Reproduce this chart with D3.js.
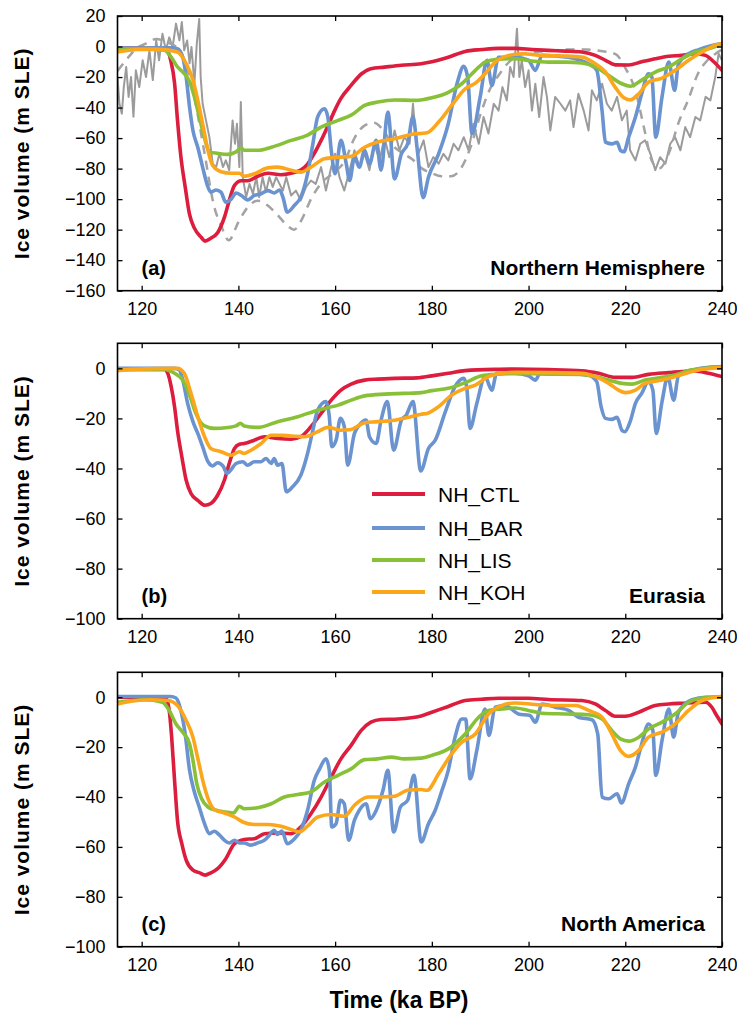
<!DOCTYPE html>
<html>
<head>
<meta charset="utf-8">
<script src="https://d3js.org/d3.v7.min.js"></script>
<style>
body { margin: 0; background: #fff; }
text { font-family: "Liberation Sans", Arial, Helvetica, sans-serif; fill: #000; }
</style>
</head>
<body>
<div id="vis"></div>
<script>
// ---- data: [age (ka BP), ice volume (m SLE)] ----

// (a) Northern Hemisphere
const ctlNH = [[115,-1],[120,-1],[125,-1.4],[126,-9],[126.8,-24],[127.4,-48],[128.1,-72],[129,-92],[129.9,-110],[130.9,-119],[132.3,-125],[133.1,-127.5],[134.3,-125.6],[135.7,-122],[137.1,-112],[138.1,-101],[139.2,-91],[140.6,-88],[141.9,-88],[144,-85],[146.1,-83],[148.8,-84],[150.9,-83],[152.9,-81],[154.3,-77],[155.7,-70],[157.1,-61.5],[158.5,-52],[159.9,-42],[161.2,-34],[163.3,-25.5],[165.4,-18],[167.4,-14.5],[170.2,-13.5],[173.7,-12.3],[177.8,-11.3],[180,-10],[183.4,-7],[186.9,-3.2],[190.3,-2],[193.8,-1.2],[197.2,-1.2],[200.7,-1.9],[204.1,-2.5],[207.6,-3],[211,-3.6],[213.8,-5.8],[215.9,-9],[217.9,-12],[220.7,-12.1],[223.4,-10],[226.2,-8],[229,-6.4],[231.7,-5.8],[234.5,-4.7],[236.6,-5.8],[238.3,-10],[240,-15.6]];
const barNH = [[115,-1],[120,-1],[126.1,-0.8],[127.4,-1.4],[128.5,-7],[129.2,-20],[129.9,-39.7],[130.6,-55],[131.6,-66],[132.6,-79],[133.7,-92],[134.3,-95.4],[135.4,-94],[136.4,-95.4],[137.4,-102],[138.5,-100],[139.5,-96],[140.6,-97.6],[141.9,-100.5],[143.3,-97.6],[144.7,-96.5],[146.1,-94.4],[147.4,-96],[148.5,-94],[149.2,-98.7],[150.1,-108.5],[151.6,-104],[152.9,-98.7],[154.3,-83.4],[155.4,-63.8],[156.4,-46],[157.8,-40.8],[158.5,-46.2],[159.2,-68],[160,-83.4],[161.2,-61.5],[162.3,-76.8],[163,-87.8],[164,-72.5],[165,-79],[166.1,-68],[167.1,-77],[168.5,-61.5],[169.5,-81],[170.9,-43],[172.3,-86.7],[173.7,-70.3],[175,-63.7],[176.1,-46],[177,-68],[178.2,-99],[179.3,-85.6],[181.4,-70.3],[183.4,-50.6],[185.2,-24.4],[186.6,-13],[187.4,-20],[188.3,-57],[190,-33],[191.4,-9],[192.4,-25.5],[193.8,-7],[197.2,-7],[200,-9],[201.4,-15.6],[202.8,-5.8],[205.5,-6.2],[209.7,-8],[212.4,-11.3],[214.1,-15.6],[215.2,-42],[215.9,-62.7],[217.2,-63.8],[218.3,-62.7],[219,-68],[219.7,-69],[220.7,-59.4],[222.1,-46.2],[223.4,-31],[224.8,-17.8],[225.5,-20],[226.3,-59.4],[227.6,-33],[229,-10.2],[230.2,-28.7],[231,-11.3],[233.1,-4.7],[235.2,-2],[237.2,0.1],[240,1.9]];
const lisNH = [[115,-2],[120.6,-1.4],[124.7,-2.5],[126.1,-7],[127.4,-13.4],[128.5,-16.7],[129.9,-23],[130.9,-33],[131.9,-46],[133,-60],[134,-69],[135.7,-70],[137.8,-70.7],[139.5,-69],[140.6,-66.5],[141.2,-68],[144,-68],[146.8,-66],[150.9,-61.5],[154.3,-58],[157.1,-52.8],[160.6,-48.4],[163.3,-45],[166.1,-38.6],[168.8,-36.4],[172.3,-35],[176.6,-35.3],[180,-33.6],[183.4,-30],[186.2,-24.4],[189,-15.6],[191,-10.2],[193.1,-8.6],[197.2,-8],[200.7,-9.5],[204.1,-10.2],[207.6,-10.2],[211,-10.8],[213.8,-13.4],[216.6,-19],[219.3,-24.4],[221,-26],[223.4,-22],[226.2,-16.7],[229,-13.4],[231.7,-8],[234.5,-3.6],[237.2,-1.4],[240,1.4]];
const kohNH = [[115,-3.6],[119.2,-2],[124,-1.9],[127.4,-3.6],[129.2,-11.3],[130.6,-22],[131.6,-35.3],[132.6,-50.6],[133.7,-68],[134.7,-78],[136.4,-82],[138.5,-83],[140.2,-83],[141.2,-85],[143.3,-83.4],[146.1,-79.5],[148.1,-79],[150.9,-81],[152.9,-82.3],[155,-79],[157.8,-73.6],[160.6,-72.5],[163.3,-72],[166.1,-66],[168.8,-62.6],[172.3,-60.5],[175.7,-57.6],[179,-56.5],[181.4,-49.5],[184.1,-38.6],[186.9,-27.7],[189,-24],[191,-17.8],[193.1,-10.2],[195.9,-5.8],[198.6,-4.7],[202.8,-5.8],[206.9,-6.2],[211,-6.9],[213.8,-11.3],[215.9,-16.7],[217.9,-26.6],[219.7,-33.6],[221,-35],[222.8,-31],[224.8,-23.3],[227.6,-20.7],[230.3,-15.6],[233.1,-9],[235.9,-3.6],[238.6,0.8],[240,1.9]];

// sea-level reconstructions shown in grey in (a)
const proxySolid = [[115,-20],[115.4,-37.5],[115.9,-44],[116.3,-26.6],[116.8,-13.4],[117.3,-33],[117.8,-20],[118.3,-46],[118.8,-15.6],[119.5,-26.6],[120.2,-9],[120.9,-20],[121.6,-2.5],[122.3,-22],[123,4],[123.6,-9],[124.3,8.4],[125,-2.5],[125.7,6],[126.4,-0.3],[127.1,15],[127.8,4],[128.3,16],[128.8,-2.5],[129.4,4],[129.9,-11],[130.3,-0.3],[130.9,-24.4],[131.4,2],[131.9,18],[132.2,-20],[132.6,-37.5],[133.3,-48.4],[134,-59.4],[134.7,-77],[135.4,-79],[136.1,-70],[136.8,-79],[137.4,-74.6],[138.1,-81],[138.8,-48.4],[139.3,-63.7],[139.7,-50.6],[140.2,-79],[140.5,-36.4],[140.9,-85.6],[141.6,-98.7],[142.3,-90],[143,-96.5],[143.7,-85.6],[144.3,-98.7],[145,-85.6],[145.7,-95.4],[146.4,-85.6],[147.1,-92],[147.8,-85.6],[148.5,-90],[149.2,-94.4],[149.9,-85.6],[150.9,-97.6],[151.9,-94.4],[152.9,-100.9],[154,-92],[155,-87.8],[156,-90],[157.1,-79],[158.1,-94.4],[159.2,-79],[160,-70.3],[160.9,-85.6],[161.9,-94.4],[163,-81],[164,-68],[165,-79],[166.1,-70.3],[167.1,-81],[168.1,-63.7],[169.2,-74.6],[170.2,-59.4],[171.2,-72.5],[172.3,-55],[173.3,-68],[174.3,-59.4],[175.4,-63.7],[176.1,-37.5],[176.8,-63.7],[177.2,-70.3],[178.3,-61.5],[179.3,-79],[180.3,-72.5],[181.4,-76.8],[182.4,-70.3],[183.4,-74.6],[184.5,-63.7],[185.5,-68],[186.6,-59.4],[187.6,-68],[188.6,-50.6],[189.7,-63.7],[190.7,-46.2],[191.7,-57],[192.8,-37.5],[193.8,-42],[194.6,-26.6],[195.5,-35.3],[196.2,-13.4],[196.9,-20],[197.6,11.7],[198.1,-20],[198.6,-9],[199.3,-26.6],[200,-15.6],[200.7,-42],[201.4,-24.4],[202.2,-46.2],[203.1,-20],[203.8,-33],[204.5,-55],[205.5,-33],[206.6,-37.5],[207.6,-42],[208.6,-35.3],[209.3,-52.8],[210.3,-31],[211.4,-42],[212.4,-55],[213.1,-28.7],[214.1,-35.3],[215.2,-24.4],[216.2,-37.5],[217.2,-42],[218.3,-33],[219.3,-48.4],[220.3,-42],[221,-68],[222.1,-74.6],[223.1,-63.7],[224.1,-61.5],[225.2,-70.3],[226.2,-81],[227.2,-72.5],[228.3,-76.8],[229.3,-63.7],[230.3,-59.4],[231.4,-68],[232.4,-52.8],[233.4,-59.4],[234.5,-46.2],[235.5,-48.4],[236.6,-33],[237.6,-35.3],[238.6,-20],[239.3,-4.7],[240,-9]];
const proxyDashed = [[115,-16],[117,-8],[119,-1],[121,2],[123,5],[125,3],[127,0],[129,-10],[131,-35],[133,-70],[135,-105],[136.5,-118],[138,-127],[140,-115],[142,-105],[144,-101],[146,-104],[148,-110],[150,-117],[151.5,-120],[153,-114],[155,-100],[157,-90],[160,-82],[162,-75],[164,-60],[166,-52],[168,-50],[170,-55],[172,-65],[174,-70],[176,-74],[178,-80],[180,-83],[182,-85],[184,-85],[186,-80],[188,-66],[190,-45],[192,-28],[194,-18],[196,-10],[198,-6],[200,-4],[204,-3],[208,-2],[212,-2],[215,-3],[218,-5],[220,-14],[222,-28],[224,-55],[225.5,-75],[227,-80],[229,-70],[231,-50],[233,-35],[235,-18],[237,-9],[239,-4],[240,-2]];

// (b) Eurasia
const ctlEU = [[115,-0.4],[124.7,-0.4],[125.4,-2],[126.1,-7.3],[126.8,-15.3],[127.4,-24.7],[128.3,-35.3],[129.2,-44.7],[130.2,-50],[131.6,-52.7],[133.1,-54.7],[134.3,-54],[135.7,-50.7],[137.1,-44.7],[138.1,-38],[139.2,-32],[140.2,-30.3],[141.2,-30],[143.3,-28.7],[145.4,-27.3],[148.1,-28],[150.9,-28.3],[152.9,-27.3],[155,-23.3],[157.1,-18],[159.2,-12.7],[161.2,-8.7],[163.3,-6.3],[166.1,-4.7],[168.8,-4.3],[172.3,-4],[177,-3.8],[180,-3],[183.4,-2],[186.9,-0.9],[193.8,-0.4],[197.2,-0.3],[204.1,-0.5],[211,-1],[214.5,-2],[217.9,-3.6],[221.4,-3.6],[224.8,-2.4],[229,-1.7],[231.7,-1.3],[234.5,-1],[237.2,-2],[240,-3.3]];
const barEU = [[115,0],[126.8,0],[127.8,-0.7],[128.5,-4.7],[129.5,-14],[130.6,-21.3],[131.6,-26],[132.6,-31.3],[133.7,-37.3],[134.7,-39],[135.7,-37.7],[136.8,-39],[137.7,-42],[138.5,-40.4],[139.5,-38],[140.9,-37.3],[141.9,-38.7],[143.3,-37.3],[144.7,-37.3],[145.7,-36],[146.8,-38],[147.4,-36],[148.1,-38.7],[149,-38],[149.9,-49.3],[151.2,-47.3],[152.9,-42.7],[154.3,-34],[155.4,-24.7],[156.4,-16.7],[158.1,-13.3],[158.8,-19.3],[159.3,-31.3],[160.2,-28.7],[161.1,-20],[161.9,-23.3],[162.6,-38.7],[164,-26],[165,-22.7],[166.4,-20.7],[167.1,-27.3],[168.5,-30],[169.5,-20.7],[170.8,-13.3],[172.1,-32.7],[173.7,-20.7],[174.7,-18.7],[176.1,-13.3],[177.7,-41],[179.3,-32],[180.7,-28.7],[182.8,-17.3],[184.8,-7.3],[186.6,-4],[187.2,-7.3],[187.9,-24],[189.3,-14],[191,-3.3],[192.4,-8.7],[193.4,-2],[197.2,-2],[200,-3],[201.4,-4.7],[202.4,-2],[207.6,-2],[212.4,-2.7],[214.1,-5.3],[215,-15.3],[215.9,-20],[217.2,-20.4],[218.3,-19.6],[219.3,-24.7],[219.9,-25.3],[221,-21.3],[222.1,-14],[223.4,-10],[224.8,-5.3],[225.7,-8.7],[226.4,-26],[227.6,-13.3],[228.8,-3.3],[230,-12.7],[231,-3],[233.8,-0.7],[237.2,0.4],[240,0.7]];
const lisEU = [[115,-0.4],[124.7,-0.4],[126.8,-2],[128.5,-4.7],[129.9,-10.7],[131.2,-18],[133,-23],[135,-24],[137.8,-23.6],[139.5,-23],[140.4,-22],[141.2,-23],[144,-23.6],[148.1,-21.3],[152.3,-19.3],[156.4,-16.7],[160.6,-14.7],[163.3,-12.7],[166.1,-11],[170.2,-10.3],[174.3,-10],[177.8,-9.7],[180,-8.9],[183.4,-8],[186.9,-5.7],[190.3,-3],[193.8,-2.3],[197.2,-2],[204.1,-2.3],[211,-2.4],[213.8,-3.3],[216.6,-4.7],[219.3,-6],[221.4,-6.3],[224.1,-4.7],[227.6,-3.6],[230.3,-2.7],[233.1,-0.9],[235.9,-0.1],[240,0.4]];
const kohEU = [[115,-0.9],[117.8,-0.4],[127.4,0],[128.8,-2],[130.2,-10],[131.6,-19.3],[133,-27.3],[134.3,-32],[136.4,-33.3],[138.5,-34.7],[140.2,-33.3],[141.2,-34],[142.6,-32.7],[144.7,-30],[146.8,-26.7],[148.8,-26.7],[150.9,-27],[153.7,-27.3],[156.4,-25.3],[158.5,-23.6],[161.2,-24.7],[163.3,-24.4],[166.1,-21.7],[168.8,-21.3],[172.3,-20.7],[175.7,-19.3],[177.8,-18.3],[179,-18],[181.4,-15.3],[184.1,-10.7],[186.9,-8],[189,-6.7],[191.4,-3.6],[194.5,-2],[197.2,-1.6],[204.1,-1.7],[211,-2],[213.8,-3.3],[216.6,-6],[218.6,-8.7],[220,-9.7],[222.1,-8.7],[224.1,-6],[227.6,-4.7],[230.3,-3.3],[233.1,-1.7],[235.9,-0.4],[240,0.4]];

// (c) North America
const ctlNA = [[115,0],[125,-0.3],[125.7,-5.3],[126.2,-16],[126.8,-33.3],[127.4,-49.3],[128.3,-58.7],[129.2,-65.3],[130.6,-69.3],[131.9,-70.3],[133.1,-71.3],[134.3,-70.4],[135.7,-68.7],[137.4,-64.7],[139.2,-58.7],[141.2,-57],[143.3,-56.7],[145.4,-54.7],[148.1,-54.4],[150.9,-54.7],[152.9,-52],[155,-46.7],[157.1,-40],[159.2,-32],[161.2,-24.7],[163.3,-19.3],[165.4,-13.3],[167.4,-10],[169.5,-8.9],[173,-8.7],[177.8,-7.5],[180,-6],[183.4,-3.7],[186.9,-1.3],[190.3,-0.8],[193.8,-0.4],[200,-0.4],[204.1,-0.9],[211,-1.3],[213.8,-2.7],[215.9,-5.3],[217.9,-7.6],[220,-7.6],[222.8,-6],[226.2,-3.3],[229,-2.7],[231.7,-2.4],[236.6,-2],[237.9,-4],[238.9,-7.3],[240,-10.7]];
const barNA = [[115,0.3],[126,0.3],[127.1,-0.3],[128.1,-5.3],[129,-14.7],[129.9,-29.3],[130.8,-37.3],[131.9,-44],[133,-50.7],[134,-54.7],[135,-53.7],[136.1,-55.3],[137.1,-57.3],[138.1,-58.4],[139.2,-57.3],[140.2,-58.4],[141.2,-58.4],[142.6,-59.3],[144,-58.4],[145.4,-57.3],[146.4,-55.3],[147.4,-53.3],[148.1,-55],[149,-53.6],[150.1,-58.7],[151.6,-56.7],[152.9,-53.3],[154.3,-45.3],[155.7,-33.3],[156.8,-28.7],[158.1,-24.7],[158.8,-29.3],[159.3,-52],[160.2,-50.7],[161.1,-41.3],[161.9,-42.7],[162.8,-57.3],[164,-49.3],[165,-45.3],[166.4,-42.7],[167.3,-48.7],[168.5,-45.3],[169.9,-37.3],[170.9,-29.3],[172.1,-54],[173.5,-44],[175,-41.3],[176.3,-31.3],[177.8,-58],[179.3,-50.7],[180.7,-45.3],[182.1,-37.3],[183.4,-29.3],[184.8,-16],[186.2,-8.7],[187,-8.7],[187.9,-32.7],[189.3,-21.3],[191,-4.7],[191.8,-15.3],[193.1,-4],[195.2,-3.3],[197.9,-6.7],[200.3,-7.3],[201.4,-10],[202.8,-2.7],[205.5,-4],[208.3,-5.3],[210.3,-8],[213.1,-9],[214.3,-14.7],[215.2,-40],[216.6,-40.7],[218.3,-38.7],[219.2,-42.4],[220.7,-34.7],[222.1,-28],[223.4,-18.7],[224.8,-10.7],[225.7,-13.3],[226.3,-31.3],[227.6,-17.3],[229,-4.7],[230,-16],[231,-6],[233.8,-1],[236.6,0],[240,0]];
const lisNA = [[115,-2],[120.6,-1],[124.3,-2],[125.7,-5.3],[127.1,-10.7],[128.5,-14],[129.9,-18.7],[130.6,-25.3],[131.4,-34.7],[132.4,-40.7],[133.7,-44],[135.4,-45.3],[137.4,-46],[139,-46.4],[140.2,-43.7],[141.2,-44.7],[144,-44.3],[146.8,-42.7],[149.5,-40],[152.3,-39],[155,-38],[157.8,-34],[160.6,-31.3],[163.3,-28.7],[166.1,-25],[168.8,-24.7],[171.6,-24],[174.3,-24.7],[177.8,-24.4],[180,-23.3],[183.4,-20.7],[186.9,-14.7],[189.7,-8],[191.7,-5.3],[194.5,-4.7],[197.2,-4.3],[200,-5.3],[202.8,-6.4],[207.6,-6.7],[212.4,-7],[215.2,-8.7],[217.2,-13.3],[219,-16.7],[220.7,-17.6],[222.8,-16],[224.8,-12.7],[227.6,-10],[230.3,-6.7],[233.1,-2],[235.9,-0.3],[240,0.3]];
const kohNA = [[115,-2.7],[117.8,-1.6],[121.9,-1],[125.4,-1.3],[127.4,-3.3],[129.2,-9.3],[130.6,-16],[131.7,-25.3],[132.8,-34.7],[134,-42],[135,-45],[137.1,-46.4],[139.2,-48],[140.9,-50],[143.3,-51],[146.1,-51],[148.8,-51.7],[150.9,-53],[152.6,-54],[154.3,-51.7],[156.4,-48],[159.2,-47],[161.9,-47.7],[164,-43.3],[166.8,-40],[169.5,-40],[172.3,-39.7],[175,-37.3],[177.8,-37],[179,-37.3],[181.4,-30.7],[184.1,-22.7],[186.2,-18],[189,-14.7],[191.7,-6.7],[194.5,-3.3],[197.2,-2.3],[201.4,-2.9],[205.5,-3.3],[209.7,-3.3],[212.4,-5.3],[215.2,-8],[217.2,-14.7],[219,-21.3],[220.7,-23.7],[222.8,-21.3],[224.8,-16],[227.6,-14],[230.3,-10.7],[233.1,-5.3],[235.9,-1.3],[240,0.3]];

const seriesNames = ['NH_CTL', 'NH_BAR', 'NH_LIS', 'NH_KOH'];
const seriesColors = ['#dc1d3e', '#6a93cf', '#88c037', '#fba61b'];
const xTicks = [120, 140, 160, 180, 200, 220, 240];

// svg
const width = 737, height = 1015;
const svg = d3.select('#vis')
    .append('svg')
    .attr('width', width)
    .attr('height', height);

// shared x scale
const xScale = d3.scaleLinear()
    .domain([115, 240])
    .range([117.5, 722]);

const panels = [
    { id: 'a', top: 16, bottom: 290.7, yDomain: [-160, 20], yTicks: d3.range(-160, 21, 20),
      tag: '(a)', region: 'Northern Hemisphere', series: [ctlNH, barNH, lisNH, kohNH], proxy: true },
    { id: 'b', top: 343.3, bottom: 618.7, yDomain: [-100, 10], yTicks: d3.range(-100, 1, 20),
      tag: '(b)', region: 'Eurasia', series: [ctlEU, barEU, lisEU, kohEU], legend: true },
    { id: 'c', top: 672.3, bottom: 946.7, yDomain: [-100, 10], yTicks: d3.range(-100, 1, 20),
      tag: '(c)', region: 'North America', series: [ctlNA, barNA, lisNA, kohNA] }
];

const x0 = xScale.range()[0], x1 = xScale.range()[1];

panels.forEach(p => {
    const yScale = d3.scaleLinear()
        .domain(p.yDomain)
        .range([p.bottom, p.top]);

    const g = svg.append('g').attr('class', 'panel-' + p.id);

    g.append('clipPath')
        .attr('id', 'clip-' + p.id)
        .append('rect')
        .attr('x', x0).attr('y', p.top)
        .attr('width', x1 - x0).attr('height', p.bottom - p.top);

    const plot = g.append('g').attr('clip-path', `url(#clip-${p.id})`);

    const line = d3.line()
        .x(d => xScale(d[0]))
        .y(d => yScale(d[1]))
        .curve(d3.curveMonotoneX);

    if (p.proxy) {
        plot.append('path')
            .datum(proxySolid)
            .attr('d', d3.line().x(d => xScale(d[0])).y(d => yScale(d[1])))
            .attr('fill', 'none')
            .attr('stroke', '#9b9b9b')
            .attr('stroke-width', 2)
            .attr('stroke-linejoin', 'round');
        plot.append('path')
            .datum(proxyDashed)
            .attr('d', line)
            .attr('fill', 'none')
            .attr('stroke', '#a3a3a3')
            .attr('stroke-width', 2.5)
            .attr('stroke-dasharray', '9,7');
    }

    p.series.forEach((s, i) => {
        plot.append('path')
            .datum(s)
            .attr('d', line)
            .attr('fill', 'none')
            .attr('stroke', seriesColors[i])
            .attr('stroke-width', 3.6)
            .attr('stroke-linejoin', 'round')
            .attr('stroke-linecap', 'round');
    });

    // axes, ticks pointing inward on all four sides
    g.append('g')
        .attr('transform', `translate(0,${p.bottom})`)
        .call(d3.axisBottom(xScale).tickValues(xTicks).tickSize(-5).tickPadding(12));
    g.append('g')
        .attr('transform', `translate(0,${p.top})`)
        .call(d3.axisTop(xScale).tickValues(xTicks).tickSize(-5).tickFormat(''));
    g.append('g')
        .attr('transform', `translate(${x0},0)`)
        .call(d3.axisLeft(yScale).tickValues(p.yTicks).tickSize(-5).tickPadding(12));
    g.append('g')
        .attr('transform', `translate(${x1},0)`)
        .call(d3.axisRight(yScale).tickValues(p.yTicks).tickSize(-5).tickFormat(''));

    g.selectAll('.domain').remove();
    g.selectAll('.tick line').attr('stroke', '#000').attr('stroke-width', 1.3);
    g.selectAll('.tick text')
        .attr('font-family', '"Liberation Sans", Arial, Helvetica, sans-serif')
        .attr('font-size', 18)
        .attr('fill', '#000');

    g.append('rect')
        .attr('x', x0).attr('y', p.top)
        .attr('width', x1 - x0).attr('height', p.bottom - p.top)
        .attr('fill', 'none')
        .attr('stroke', '#000')
        .attr('stroke-width', 1.6);

    // y label
    g.append('text')
        .attr('transform', `translate(29,${(p.top + p.bottom) / 2}) rotate(-90)`)
        .attr('text-anchor', 'middle')
        .attr('font-size', 21)
        .attr('font-weight', 'bold')
        .attr('letter-spacing', 1)
        .text('Ice volume (m SLE)');

    // panel tag and region name
    g.append('text')
        .attr('x', 141.5).attr('y', p.bottom - 16)
        .attr('font-size', 20)
        .attr('font-weight', 'bold')
        .text(p.tag);
    g.append('text')
        .attr('x', x1 - 17).attr('y', p.bottom - 16)
        .attr('text-anchor', 'end')
        .attr('font-size', 21)
        .attr('font-weight', 'bold')
        .text(p.region);

    if (p.legend) {
        const legend = g.append('g').attr('class', 'legend');
        const rowY = [494, 528, 560, 592];
        seriesNames.forEach((name, i) => {
            legend.append('line')
                .attr('x1', 372).attr('x2', 425)
                .attr('y1', rowY[i]).attr('y2', rowY[i])
                .attr('stroke', seriesColors[i])
                .attr('stroke-width', 4.2);
            legend.append('text')
                .attr('x', 438).attr('y', rowY[i] + 7.5)
                .attr('font-size', 21)
                .text(name);
        });
    }
});

// x label
svg.append('text')
    .attr('x', 399).attr('y', 1008)
    .attr('text-anchor', 'middle')
    .attr('font-size', 23)
    .attr('font-weight', 'bold')
    .text('Time (ka BP)');
</script>
</body>
</html>
